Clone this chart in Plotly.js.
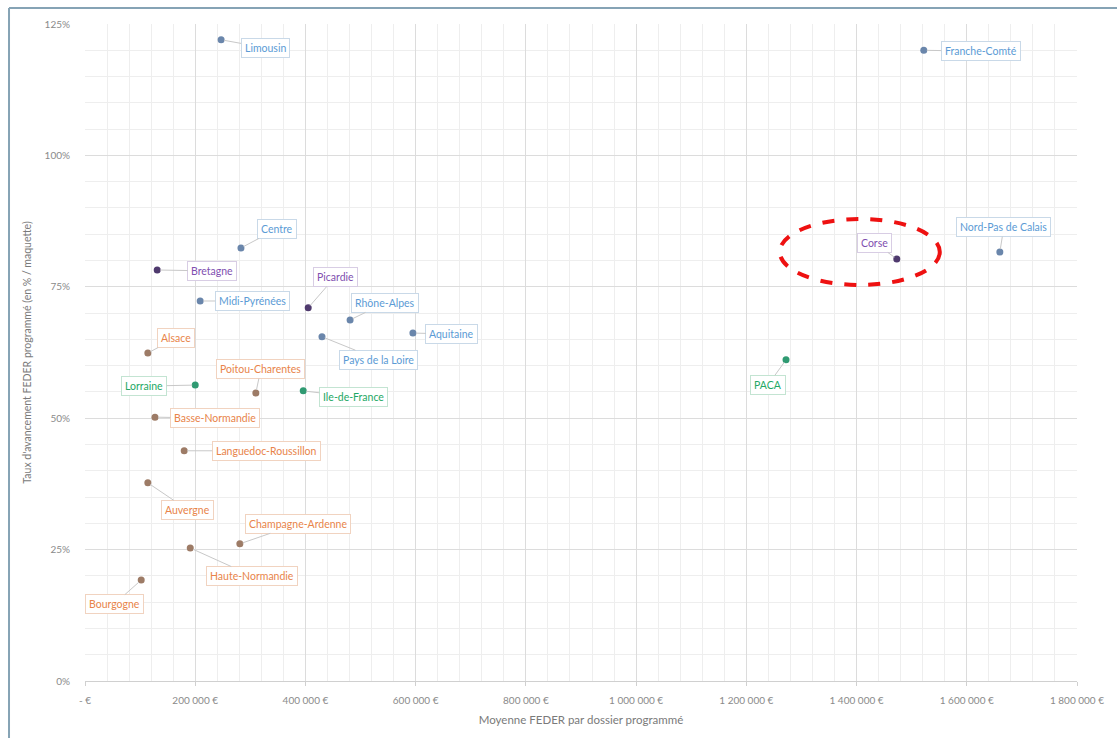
<!DOCTYPE html>
<html>
<head>
<meta charset="utf-8">
<script src="https://cdn.plot.ly/plotly-3.0.1.min.js"></script>
<style>
  html, body { margin: 0; padding: 0; background: #ffffff; }
  #chart { width: 1117px; height: 738px; }
</style>
</head>
<body>
<div id="chart"></div>
<script>
// ---- Data ----
const regions = ["Limousin", "Franche-Comté", "Centre", "Bretagne", "Midi-Pyrénées", "Picardie",
  "Rhône-Alpes", "Aquitaine", "Pays de la Loire", "Alsace", "Lorraine", "Poitou-Charentes",
  "Ile-de-France", "Basse-Normandie", "Languedoc-Roussillon", "Auvergne", "Champagne-Ardenne",
  "Haute-Normandie", "Bourgogne", "PACA", "Corse", "Nord-Pas de Calais"];
const moyenneFeder = [247000, 1522000, 283000, 131000, 209000, 405000,
  481000, 595000, 430000, 114000, 200000, 310000,
  396000, 127000, 180000, 114000, 281000,
  191000, 102000, 1272000, 1473000, 1660000];
const tauxAvancement = [1.22, 1.20, 0.824, 0.782, 0.723, 0.710,
  0.687, 0.662, 0.655, 0.624, 0.563, 0.548,
  0.552, 0.502, 0.438, 0.377, 0.261,
  0.253, 0.192, 0.611, 0.803, 0.816];
const groupe = ["bleu", "bleu", "bleu", "violet", "bleu", "violet",
  "bleu", "bleu", "bleu", "orange", "vert", "orange",
  "vert", "orange", "orange", "orange", "orange",
  "orange", "orange", "vert", "violet", "bleu"];
const xTickVals = [0, 200000, 400000, 600000, 800000, 1000000, 1200000, 1400000, 1600000, 1800000];
const xTickText = ["- €", "200 000 €", "400 000 €", "600 000 €", "800 000 €", "1 000 000 €",
  "1 200 000 €", "1 400 000 €", "1 600 000 €", "1 800 000 €"];
const yTickVals = [0, 0.25, 0.5, 0.75, 1.0, 1.25];
const yTickText = ["0%", "25%", "50%", "75%", "100%", "125%"];
const highlighted = "Corse";

// ---- Styles ----
const styles = {
  bleu:   { marker: "#6a86ab", text: "#5b9bd5", border: "#c9d9e8" },
  violet: { marker: "#4f3a6e", text: "#7f4fb0", border: "#d8cde4" },
  orange: { marker: "#9d7b66", text: "#e8844a", border: "#f1d3c0" },
  vert:   { marker: "#2f9a72", text: "#1ea865", border: "#c3e4d2" }
};
// label offsets in pixels (label centre relative to point)
const labelOffsets = {
  "Limousin": [44, 8], "Franche-Comté": [57, 1], "Centre": [36, -19], "Bretagne": [55, 1],
  "Midi-Pyrénées": [52, 0], "Picardie": [27, -31], "Rhône-Alpes": [35, -17], "Aquitaine": [39, 1],
  "Pays de la Loire": [57, 23], "Alsace": [28, -15], "Lorraine": [-51, 1], "Poitou-Charentes": [5, -24],
  "Ile-de-France": [50, 6], "Basse-Normandie": [60, 1], "Languedoc-Roussillon": [82, 0],
  "Auvergne": [40, 27], "Champagne-Ardenne": [58, -20], "Haute-Normandie": [62, 28],
  "Bourgogne": [-27, 24], "PACA": [-18, 25], "Corse": [-22, -16], "Nord-Pas de Calais": [4, -25]
};

const groups = ["bleu", "violet", "orange", "vert"];
const traces = groups.map(g => {
  const idx = regions.map((r, i) => i).filter(i => groupe[i] === g);
  return {
    type: "scatter", mode: "markers", name: g,
    x: idx.map(i => moyenneFeder[i]),
    y: idx.map(i => tauxAvancement[i]),
    text: idx.map(i => regions[i]),
    marker: { size: 7, color: styles[g].marker },
    hoverinfo: "text+x+y"
  };
});

const annotations = regions.map((r, i) => {
  const s = styles[groupe[i]];
  const off = labelOffsets[r];
  return {
    x: moyenneFeder[i], y: tauxAvancement[i], xref: "x", yref: "y",
    text: r, showarrow: true, arrowhead: 0, arrowwidth: 1, arrowcolor: "#c8c8c8",
    ax: off[0], ay: off[1], standoff: 3,
    font: { family: "Lato, 'Open Sans', sans-serif", size: 10.5, color: s.text },
    bgcolor: "#ffffff", bordercolor: s.border, borderwidth: 1, borderpad: 3
  };
});

const iH = regions.indexOf(highlighted);
const shapes = [
  // highlight ellipse around Corse (pixel-sized, anchored to the data point)
  { type: "circle", xref: "x", yref: "y", xsizemode: "pixel", ysizemode: "pixel",
    xanchor: moyenneFeder[iH], yanchor: tauxAvancement[iH],
    x0: -117, x1: 43, y0: -26, y1: 40,
    line: { color: "#ee1111", width: 4, dash: "dash" }, fillcolor: "rgba(0,0,0,0)" },
  // outer frame (left and top)
  { type: "line", xref: "paper", yref: "paper", x0: -0.0766, x1: -0.0766, y0: 1.0244, y1: -0.09,
    line: { color: "#86a3b5", width: 2 } },
  { type: "line", xref: "paper", yref: "paper", x0: -0.0766, x1: 1.05, y0: 1.0244, y1: 1.0244,
    line: { color: "#86a3b5", width: 2 } }
];

const layout = {
  width: 1117, height: 738,
  margin: { l: 85, r: 40, t: 24, b: 57 },
  paper_bgcolor: "#ffffff", plot_bgcolor: "#ffffff",
  showlegend: false,
  font: { family: "Lato, 'Open Sans', sans-serif", size: 10, color: "#7f7f7f" },
  xaxis: {
    range: [0, 1800000], tickvals: xTickVals, ticktext: xTickText,
    showgrid: true, gridcolor: "#dcdcdc", gridwidth: 1,
    minor: { dtick: 40000, showgrid: true, gridcolor: "#eeeeee", gridwidth: 1 },
    zeroline: false, showline: true, linecolor: "#d0d0d0",
    ticks: "outside", ticklen: 4, tickcolor: "#d0d0d0", ticklabelstandoff: 6,
    tickfont: { size: 10, color: "#8a8a8a" },
    title: { text: "Moyenne FEDER par dossier programmé", font: { size: 11.5, color: "#7a7a7a" }, standoff: 10 },
    fixedrange: true
  },
  yaxis: {
    range: [0, 1.25], tickvals: yTickVals, ticktext: yTickText,
    showgrid: true, gridcolor: "#dcdcdc", gridwidth: 1,
    minor: { dtick: 0.05, showgrid: true, gridcolor: "#eeeeee", gridwidth: 1 },
    zeroline: false, showline: false,
    ticks: "", ticklabelstandoff: 14,
    tickfont: { size: 10, color: "#8a8a8a" },
    title: { text: "Taux d'avancement FEDER programmé (en % / maquette)", font: { size: 10.5, color: "#7a7a7a" }, standoff: 10 },
    fixedrange: true
  },
  annotations: annotations,
  shapes: shapes
};

Plotly.newPlot("chart", traces, layout, { displayModeBar: false, staticPlot: true });
</script>
</body>
</html>
